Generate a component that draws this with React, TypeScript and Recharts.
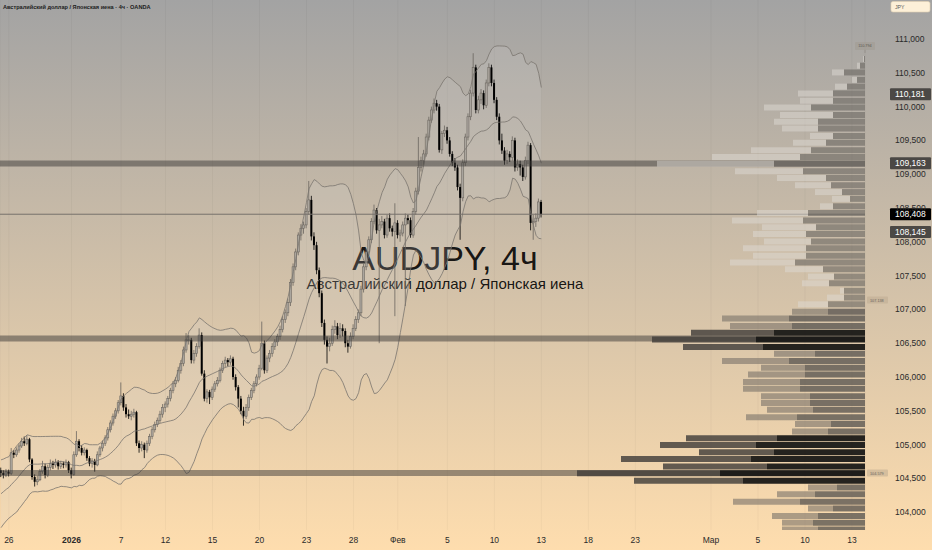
import React from "react";
import {
  ComposedChart,
  BarChart,
  Bar,
  Line,
  Area,
  XAxis,
  YAxis,
  CartesianGrid,
  ReferenceLine,
  Cell,
} from "recharts";

const FONT = '"Liberation Sans", Arial, sans-serif';
const WIDTH = 932;
const HEIGHT = 550;
const AXIS_WIDTH = 67;
const AXIS_HEIGHT = 20;
const PRICE_DOMAIN: [number, number] = [103.737, 111.577];
const INDEX_DOMAIN: [number, number] = [-0.4, 331];

// AUDJPY 4h candles: [open, high, low, close]
const candles: [number, number, number, number][] = [
  [104.62, 104.66, 104.52, 104.58], [104.58, 104.62, 104.5, 104.55], [104.55, 104.64, 104.52, 104.6], [104.6, 104.63, 104.53, 104.57],
  [104.57, 104.95, 104.55, 104.88], [104.88, 104.92, 104.8, 104.85], [104.85, 104.96, 104.82, 104.92], [104.92, 105.02, 104.88, 104.98],
  [104.98, 105.1, 104.95, 105.05], [105.05, 105.12, 104.98, 105.02], [105.02, 105.14, 104.99, 105.08], [105.08, 105.1, 104.74, 104.78],
  [104.78, 104.8, 104.48, 104.52], [104.52, 104.56, 104.38, 104.45], [104.45, 104.54, 104.4, 104.48], [104.48, 104.64, 104.46, 104.6],
  [104.6, 104.76, 104.57, 104.68], [104.68, 104.72, 104.5, 104.55], [104.55, 104.7, 104.52, 104.66], [104.66, 104.78, 104.62, 104.72],
  [104.72, 104.76, 104.64, 104.7], [104.7, 104.79, 104.66, 104.74], [104.74, 104.77, 104.63, 104.68], [104.68, 104.76, 104.64, 104.72],
  [104.72, 104.75, 104.65, 104.7], [104.7, 104.78, 104.66, 104.74], [104.74, 104.76, 104.58, 104.62], [104.62, 104.66, 104.5, 104.56],
  [104.56, 104.9, 104.54, 104.85], [104.85, 105.2, 104.82, 105.05], [105.05, 105.08, 104.9, 104.95], [104.95, 104.99, 104.84, 104.88],
  [104.88, 104.96, 104.84, 104.92], [104.92, 104.94, 104.76, 104.8], [104.8, 104.83, 104.68, 104.72], [104.72, 104.8, 104.66, 104.76],
  [104.76, 104.79, 104.6, 104.7], [104.7, 104.9, 104.68, 104.85], [104.85, 104.98, 104.82, 104.95], [104.95, 105.06, 104.9, 105.02],
  [105.02, 105.14, 104.98, 105.1], [105.1, 105.26, 105.06, 105.22], [105.22, 105.36, 105.18, 105.32], [105.32, 105.46, 105.28, 105.42],
  [105.42, 105.54, 105.38, 105.5], [105.5, 105.66, 105.46, 105.62], [105.62, 105.92, 105.58, 105.72], [105.72, 105.76, 105.5, 105.55],
  [105.55, 105.6, 105.4, 105.45], [105.45, 105.52, 105.38, 105.42], [105.42, 105.5, 105.36, 105.45], [105.45, 105.53, 105.4, 105.48],
  [105.48, 105.5, 104.98, 105.02], [105.02, 105.06, 104.88, 104.95], [104.95, 105.05, 104.9, 105.0], [105.0, 105.03, 104.8, 104.92],
  [104.92, 105.06, 104.88, 105.02], [105.02, 105.16, 104.98, 105.12], [105.12, 105.26, 105.08, 105.22], [105.22, 105.34, 105.18, 105.3],
  [105.3, 105.4, 105.26, 105.36], [105.36, 105.5, 105.32, 105.45], [105.45, 105.6, 105.4, 105.55], [105.55, 105.64, 105.48, 105.6],
  [105.6, 105.72, 105.55, 105.68], [105.68, 105.84, 105.64, 105.8], [105.8, 105.94, 105.76, 105.9], [105.9, 106.0, 105.85, 105.95],
  [105.95, 106.15, 105.92, 106.1], [106.1, 106.25, 106.05, 106.2], [106.2, 106.45, 106.16, 106.4], [106.4, 106.65, 106.36, 106.55],
  [106.55, 106.62, 106.48, 106.55], [106.55, 106.58, 106.2, 106.25], [106.25, 106.4, 106.2, 106.35], [106.35, 106.5, 106.3, 106.45],
  [106.45, 106.72, 106.42, 106.62], [106.62, 106.66, 106.02, 106.05], [106.05, 106.1, 105.64, 105.68], [105.68, 105.82, 105.62, 105.78],
  [105.78, 105.81, 105.6, 105.7], [105.7, 105.86, 105.66, 105.82], [105.82, 105.94, 105.78, 105.9], [105.9, 106.0, 105.86, 105.95],
  [105.95, 106.14, 105.92, 106.1], [106.1, 106.24, 106.06, 106.2], [106.2, 106.3, 106.14, 106.25], [106.25, 106.28, 106.16, 106.22],
  [106.22, 106.32, 106.18, 106.27], [106.27, 106.3, 105.96, 106.0], [106.0, 106.04, 105.8, 105.85], [105.85, 105.88, 105.55, 105.68],
  [105.68, 105.72, 105.45, 105.5], [105.5, 105.56, 105.28, 105.42], [105.42, 105.6, 105.38, 105.55], [105.55, 105.74, 105.5, 105.7],
  [105.7, 105.84, 105.66, 105.8], [105.8, 105.94, 105.76, 105.9], [105.9, 106.04, 105.86, 106.0], [106.0, 106.18, 105.96, 106.13],
  [106.13, 106.82, 106.1, 106.5], [106.5, 106.54, 106.05, 106.1], [106.1, 106.32, 106.06, 106.28], [106.28, 106.4, 106.22, 106.35],
  [106.35, 106.5, 106.3, 106.45], [106.45, 106.56, 106.4, 106.52], [106.52, 106.64, 106.46, 106.6], [106.6, 106.76, 106.55, 106.7],
  [106.7, 106.9, 106.66, 106.85], [106.85, 107.0, 106.8, 106.95], [106.95, 107.16, 106.9, 107.1], [107.1, 107.45, 107.05, 107.4],
  [107.4, 107.68, 107.35, 107.63], [107.63, 107.9, 107.58, 107.85], [107.85, 108.14, 107.8, 108.1], [108.1, 108.26, 108.02, 108.2],
  [108.2, 108.3, 108.12, 108.25], [108.25, 108.5, 108.2, 108.45], [108.45, 108.9, 108.4, 108.62], [108.62, 108.68, 108.02, 108.08],
  [108.08, 108.14, 107.88, 107.95], [107.95, 108.0, 107.52, 107.58], [107.58, 107.62, 107.18, 107.24], [107.24, 107.28, 106.74, 106.8],
  [106.8, 106.85, 106.48, 106.55], [106.55, 106.6, 106.2, 106.45], [106.45, 106.58, 106.38, 106.5], [106.5, 106.76, 106.46, 106.7],
  [106.7, 106.84, 106.64, 106.75], [106.75, 106.8, 106.56, 106.62], [106.62, 106.8, 106.58, 106.72], [106.72, 106.78, 106.6, 106.68],
  [106.68, 106.72, 106.44, 106.5], [106.5, 106.55, 106.36, 106.45], [106.45, 106.66, 106.42, 106.6], [106.6, 106.78, 106.56, 106.72],
  [106.72, 106.9, 106.68, 106.85], [106.85, 107.0, 106.8, 106.95], [106.95, 107.35, 106.9, 107.3], [107.3, 107.68, 107.25, 107.63],
  [107.63, 107.9, 107.58, 107.85], [107.85, 108.08, 107.8, 108.03], [108.03, 108.35, 107.98, 108.3], [108.3, 108.55, 108.26, 108.47],
  [108.47, 108.5, 108.12, 108.17], [108.17, 108.34, 106.5, 108.25], [108.25, 108.38, 108.2, 108.3], [108.3, 108.34, 108.05, 108.1],
  [108.1, 108.4, 108.06, 108.35], [108.35, 108.42, 108.15, 108.2], [108.2, 108.24, 108.08, 108.15], [108.15, 108.57, 106.9, 108.28],
  [108.28, 108.32, 108.05, 108.1], [108.1, 108.18, 108.0, 108.13], [108.13, 108.3, 108.08, 108.25], [108.25, 108.42, 107.05, 108.35],
  [108.35, 108.4, 108.26, 108.32], [108.32, 108.36, 108.06, 108.1], [108.1, 108.5, 108.06, 108.45], [108.45, 108.8, 108.4, 108.75],
  [108.75, 109.55, 108.7, 109.1], [109.1, 109.26, 109.04, 109.2], [109.2, 109.36, 109.14, 109.3], [109.3, 109.6, 109.26, 109.55],
  [109.55, 109.85, 109.5, 109.8], [109.8, 110.0, 109.76, 109.95], [109.95, 110.12, 109.9, 110.05], [110.05, 110.1, 109.94, 110.0],
  [110.0, 110.04, 109.32, 109.36], [109.36, 109.64, 109.3, 109.6], [109.6, 109.72, 109.55, 109.65], [109.65, 109.7, 109.45, 109.5],
  [109.5, 109.55, 109.26, 109.3], [109.3, 109.34, 109.12, 109.17], [109.17, 109.24, 109.05, 109.1], [109.1, 109.14, 108.76, 108.81],
  [108.81, 108.86, 108.03, 108.65], [108.65, 109.22, 108.6, 109.17], [109.17, 109.6, 109.12, 109.55], [109.55, 109.9, 109.5, 109.85],
  [109.85, 110.25, 109.8, 110.2], [110.2, 110.79, 110.15, 110.58], [110.58, 110.62, 109.9, 109.95], [109.95, 110.16, 109.9, 110.1],
  [110.1, 110.26, 110.04, 110.2], [110.2, 110.24, 109.96, 110.02], [110.02, 110.4, 109.98, 110.35], [110.35, 110.64, 110.3, 110.58],
  [110.58, 110.62, 110.3, 110.35], [110.35, 110.4, 110.05, 110.1], [110.1, 110.14, 109.8, 109.85], [109.85, 109.9, 109.44, 109.5],
  [109.5, 109.6, 109.3, 109.35], [109.35, 109.4, 109.14, 109.2], [109.2, 109.36, 109.15, 109.3], [109.3, 109.34, 109.18, 109.25],
  [109.25, 109.56, 109.2, 109.5], [109.5, 109.54, 109.04, 109.1], [109.1, 109.22, 109.05, 109.15], [109.15, 109.2, 108.98, 109.1],
  [109.1, 109.14, 108.9, 108.96], [108.96, 109.26, 108.92, 109.2], [109.2, 109.48, 109.15, 109.43], [109.43, 109.46, 108.17, 108.28],
  [108.28, 108.4, 108.03, 108.3], [108.3, 108.42, 108.22, 108.35], [108.35, 108.64, 108.3, 108.59], [108.59, 108.62, 108.36, 108.408],
];

// closes before the visible range, only used to seed the Bollinger bands
const warmupCloses = [
  103.92, 103.88, 103.95, 104.02, 103.98, 104.05, 104.1, 104.02, 104.08, 104.15,
  104.2, 104.28, 104.35, 104.42, 104.5, 104.55, 104.6, 104.58, 104.62, 104.55,
];

const dateTicks = [3, 27, 46, 63, 81, 99, 117, 135, 152, 171, 189, 207, 225, 243, 272, 290, 308, 326];
const dateLabels = ["26", "2026", "7", "12", "15", "20", "23", "28", "Фев", "5", "10", "13", "18", "23", "Мар", "5", "10", "13"];
const priceTicks = [104, 104.5, 105, 105.5, 106, 106.5, 107, 107.5, 108, 108.5, 109, 109.5, 110, 110.5, 111];

const levelLines = [109.16, 106.57, 104.58];
const lastPrice = 108.408;
const bandTagValues = [110.181, 109.163, 108.145];
const highMarker = 110.794;
const sideMarkers = [107.138, 104.579];

// visible range volume profile rows
const vpPrices = [
  103.74, 103.84, 103.94, 104.05, 104.15, 104.26, 104.36, 104.46, 104.57, 104.67,
  104.78, 104.88, 104.99, 105.09, 105.19, 105.3, 105.4, 105.51, 105.61, 105.71,
  105.82, 105.92, 106.03, 106.13, 106.23, 106.34, 106.44, 106.55, 106.65, 106.75,
  106.86, 106.96, 107.07, 107.17, 107.27, 107.38, 107.48, 107.59, 107.69, 107.79,
  107.9, 108.0, 108.11, 108.21, 108.31, 108.42, 108.52, 108.63, 108.73, 108.83,
  108.94, 109.04, 109.15, 109.25, 109.35, 109.46, 109.56, 109.67, 109.77, 109.87,
  109.98, 110.08, 110.19, 110.29, 110.39, 110.5, 110.6, 110.7,
];
const vpTotal = [
  83, 83, 93, 57, 132, 88, 57, 231, 288, 202,
  244, 166, 205, 179, 73, 70, 119, 98, 104, 104,
  122, 122, 117, 104, 143, 91, 182, 213, 174, 135,
  143, 73, 67, 38, 25, 63, 57, 80, 135, 112,
  122, 101, 112, 103, 133, 108, 45, 33, 50, 70,
  88, 130, 208, 153, 114, 72, 55, 83, 91, 85,
  101, 65, 67, 30, 13, 33, 8, 2,
];
const vpDown = [
  47, 52, 47, 32, 65, 50, 28, 122, 145, 98,
  114, 91, 109, 88, 37, 34, 68, 52, 55, 55,
  65, 65, 60, 60, 76, 50, 102, 109, 91, 73,
  76, 37, 37, 21, 21, 36, 31, 42, 70, 59,
  59, 54, 59, 49, 62, 57, 32, 15, 23, 34,
  39, 62, 91, 65, 54, 39, 32, 47, 47, 32,
  54, 32, 32, 18, 8, 21, 5, 1,
];

const BB_LENGTH = 20;
const allCloses = [...warmupCloses, ...candles.map((c) => c[3])];

const chartData = candles.map(([open, high, low, close], i) => {
  const end = i + warmupCloses.length + 1;
  const win = allCloses.slice(end - BB_LENGTH, end);
  const mean = win.reduce((a, b) => a + b, 0) / BB_LENGTH;
  const sd = Math.sqrt(win.reduce((a, b) => a + (b - mean) ** 2, 0) / BB_LENGTH);
  return {
    i,
    open,
    high,
    low,
    close,
    range: [low, high],
    basis: mean,
    upper: mean + 2 * sd,
    lower: mean - 2 * sd,
    band: [mean - 2 * sd, mean + 2 * sd],
  };
});

const vpData = vpPrices.map((p, k) => ({ p, down: vpDown[k], up: vpTotal[k] - vpDown[k] }));

const vpZone = (p: number) => {
  if ((p >= 104.4 && p <= 105.15) || (p >= 106.4 && p <= 106.7)) return "deep";
  return p > 107 ? "upper" : "mid";
};

const VP_COLORS: Record<string, { down: string; up: string }> = {
  deep: { down: "rgba(20,19,18,0.92)", up: "rgba(66,62,58,0.82)" },
  mid: { down: "rgba(95,90,84,0.82)", up: "rgba(125,117,106,0.62)" },
  upper: { down: "rgba(105,101,96,0.6)", up: "rgba(222,218,212,0.5)" },
};

const fmt = (v: number) => v.toFixed(3).replace(".", ",");

function Candle(props: any) {
  const { x, y, width, height, payload } = props;
  if (x == null || !payload) return null;
  const { open, high, low, close } = payload;
  const span = high - low || 1e-9;
  const py = (v: number) => y + ((high - v) / span) * height;
  const up = close >= open;
  const cx = x + width / 2;
  const top = py(Math.max(open, close));
  const bodyH = Math.max(py(Math.min(open, close)) - top, 0.8);
  const color = up ? "#6b665f" : "#000";
  return (
    <g>
      <line x1={cx} x2={cx} y1={y} y2={y + height} stroke={color} strokeWidth={0.8} />
      <rect
        x={x}
        y={top}
        width={width}
        height={bodyH}
        fill={up ? "rgba(180,175,168,0.8)" : "#000"}
        stroke={color}
        strokeWidth={up ? 0.6 : 0}
      />
    </g>
  );
}

function DateTick(props: any) {
  const { x, y, payload } = props;
  const label = dateLabels[dateTicks.indexOf(payload.value)];
  return (
    <text
      x={x}
      y={y + 13}
      textAnchor="middle"
      fontSize={8.5}
      fontFamily={FONT}
      fontWeight={label === "2026" ? 700 : 400}
      fill="#2a2a2a"
    >
      {label}
    </text>
  );
}

function PriceTick(props: any) {
  const { x, y, payload } = props;
  return (
    <text x={x + 30} y={y + 3} fontSize={8.5} fontFamily={FONT} fill="#2a2a2a">
      {fmt(payload.value)}
    </text>
  );
}

function PriceTag({ viewBox, text, fill }: any) {
  if (!viewBox) return null;
  const x = viewBox.x + viewBox.width + 25;
  const y = viewBox.y;
  return (
    <g>
      <rect x={x} y={y - 6} width={41} height={12} fill={fill} rx={1} />
      <text x={x + 5} y={y + 3} fontSize={8.5} fontFamily={FONT} fill="#fff">
        {text}
      </text>
    </g>
  );
}

function SideMarker({ viewBox, text }: any) {
  if (!viewBox) return null;
  const x = viewBox.x + viewBox.width + 2;
  const y = viewBox.y;
  return (
    <g>
      <rect x={x} y={y - 3.5} width={21} height={7} fill="rgba(190,172,146,0.55)" rx={1} />
      <text x={x + 3} y={y + 1.5} fontSize={3.8} fontFamily={FONT} fill="#6a645c">
        {text}
      </text>
    </g>
  );
}

function HighMarker({ viewBox, text }: any) {
  if (!viewBox) return null;
  const cx = viewBox.x + viewBox.width;
  const y = viewBox.y;
  return (
    <g>
      <rect x={cx - 10} y={y - 11} width={20} height={8} fill="rgba(160,154,146,0.55)" rx={1} />
      <line x1={cx} x2={cx} y1={y - 3} y2={y} stroke="#8a847c" strokeWidth={0.6} />
      <text x={cx} y={y - 5.5} textAnchor="middle" fontSize={3.8} fontFamily={FONT} fill="#5a554f">
        {text}
      </text>
    </g>
  );
}

export default function App() {
  const layer: React.CSSProperties = { position: "absolute", left: 0, top: 0 };
  const plotWidth = WIDTH - AXIS_WIDTH;
  return (
    <div
      style={{
        position: "absolute",
        left: 0,
        top: 0,
        width: WIDTH,
        height: HEIGHT,
        overflow: "hidden",
        background: "linear-gradient(to bottom, #a3a3a3 0%, #feddae 100%)",
        fontFamily: FONT,
      }}
    >
      <svg width={WIDTH} height={HEIGHT} style={layer}>
        <text x={445} y={270} textAnchor="middle" fontSize={34} fontFamily={FONT} fill="rgba(0,0,0,0.9)">
          AUDJPY, 4ч
        </text>
        <text x={445} y={289} textAnchor="middle" fontSize={15} fontFamily={FONT} fill="rgba(0,0,0,0.9)">
          Австралийский доллар / Японская иена
        </text>
      </svg>

      <div style={layer}>
        <ComposedChart width={WIDTH} height={HEIGHT} data={chartData} margin={{ top: 0, right: 0, bottom: 0, left: 0 }}>
          <CartesianGrid horizontal={false} stroke="rgba(0,0,0,0.035)" />
          <XAxis
            type="number"
            dataKey="i"
            domain={INDEX_DOMAIN}
            ticks={dateTicks}
            interval={0}
            height={AXIS_HEIGHT}
            axisLine={false}
            tickLine={false}
            tickSize={0}
            tickMargin={0}
            allowDataOverflow
            tick={(p: any) => <DateTick {...p} />}
          />
          <YAxis
            orientation="right"
            type="number"
            domain={PRICE_DOMAIN}
            ticks={priceTicks}
            interval={0}
            width={AXIS_WIDTH}
            axisLine={false}
            tickLine={false}
            tickSize={0}
            tickMargin={0}
            allowDataOverflow
            tick={(p: any) => <PriceTick {...p} />}
          />
          <Area
            dataKey="band"
            type="linear"
            stroke="none"
            fill="rgba(212,212,212,0.3)"
            dot={false}
            activeDot={false}
            isAnimationActive={false}
          />
          {["upper", "basis", "lower"].map((k) => (
            <Line
              key={k}
              dataKey={k}
              type="linear"
              stroke="#7a756e"
              strokeWidth={0.8}
              dot={false}
              activeDot={false}
              isAnimationActive={false}
            />
          ))}
          <Bar dataKey="range" barSize={2} shape={(p: any) => <Candle {...p} />} activeBar={false} isAnimationActive={false} />
          {levelLines.map((v) => (
            <ReferenceLine key={v} y={v} stroke="rgba(60,58,55,0.5)" strokeWidth={6} />
          ))}
          <ReferenceLine y={lastPrice} stroke="#76716b" strokeWidth={1} />
          <ReferenceLine
            y={highMarker}
            strokeOpacity={0}
            label={(p: any) => <HighMarker viewBox={p.viewBox} text={highMarker.toFixed(3)} />}
          />
          {sideMarkers.map((v) => (
            <ReferenceLine
              key={`m${v}`}
              y={v}
              strokeOpacity={0}
              label={(p: any) => <SideMarker viewBox={p.viewBox} text={v.toFixed(3)} />}
            />
          ))}
          {bandTagValues.map((v) => (
            <ReferenceLine
              key={`t${v}`}
              y={v}
              strokeOpacity={0}
              label={(p: any) => <PriceTag viewBox={p.viewBox} text={fmt(v)} fill="#4b4845" />}
            />
          ))}
          <ReferenceLine
            y={lastPrice}
            strokeOpacity={0}
            label={(p: any) => <PriceTag viewBox={p.viewBox} text={fmt(lastPrice)} fill="#000" />}
          />
        </ComposedChart>
      </div>

      <div style={{ ...layer, pointerEvents: "none" }}>
        <BarChart
          width={WIDTH}
          height={HEIGHT}
          data={vpData}
          layout="vertical"
          margin={{ top: 0, right: AXIS_WIDTH, bottom: AXIS_HEIGHT, left: 0 }}
          barGap={0}
        >
          <XAxis type="number" domain={[0, plotWidth]} reversed hide allowDataOverflow />
          <YAxis type="number" dataKey="p" domain={PRICE_DOMAIN} reversed hide allowDataOverflow />
          <Bar dataKey="down" stackId="vp" barSize={6} isAnimationActive={false}>
            {vpData.map((r, k) => (
              <Cell key={k} fill={VP_COLORS[vpZone(r.p)].down} />
            ))}
          </Bar>
          <Bar dataKey="up" stackId="vp" barSize={6} isAnimationActive={false}>
            {vpData.map((r, k) => (
              <Cell key={k} fill={VP_COLORS[vpZone(r.p)].up} />
            ))}
          </Bar>
        </BarChart>
      </div>

      <svg width={WIDTH} height={HEIGHT} style={{ ...layer, pointerEvents: "none" }}>
        <text x={3} y={9} fontSize={5.6} fontWeight={700} fontFamily={FONT} fill="#1c1c1c">
          Австралийский доллар / Японская иена · 4ч · OANDA
        </text>
        <rect x={891} y={1.5} width={39} height={10.5} rx={2} fill="#fdf0d8" stroke="#e2d2b4" strokeWidth={0.6} />
        <text x={895} y={9} fontSize={5.2} fontFamily={FONT} fill="#5a5a5a">
          JPY
        </text>
      </svg>
    </div>
  );
}
